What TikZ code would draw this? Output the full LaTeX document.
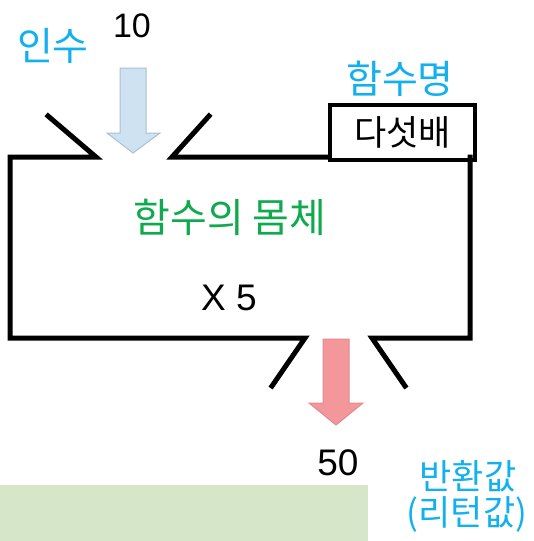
\documentclass[tikz,border=0pt]{standalone}
\usepackage{fontspec}
\setmainfont{Liberation Sans}
\newfontfamily\kr{Noto Sans CJK KR}
\definecolor{cyanlbl}{HTML}{12B0EE}
\definecolor{greenlbl}{HTML}{10A94E}
\definecolor{inblue}{HTML}{CFE2F1}
\definecolor{inborder}{HTML}{A9BFD2}
\definecolor{outred}{HTML}{F4979A}
\definecolor{outborder}{HTML}{E08A8D}
\definecolor{bandgreen}{HTML}{D5E7C8}
\begin{document}
\begin{tikzpicture}[x=1pt,y=-1pt,
  outline/.style={line width=5pt,line join=miter,line cap=rect},
  lbl/.style={inner sep=0pt,font=\kr\fontsize{39}{40}\selectfont},
  num/.style={inner sep=0pt,font=\fontsize{37}{38}\selectfont}]
\useasboundingbox (0,0) rectangle (534,541);
\fill[bandgreen] (0,485) rectangle (368,541);
% body outline
\draw[outline] (48,116) -- (96,157) -- (10,157) -- (10,338) -- (305,338) -- (272,386);
\draw[outline] (209,116) -- (172,157) -- (328,157);
\draw[outline] (405,386) -- (372,338) -- (470,338) -- (470,157);
% name box
\node[draw,line width=4pt,minimum width=145pt,minimum height=55pt,inner sep=0pt,anchor=north west,
  font=\kr\fontsize{35}{36}\selectfont] (namebox) at (328,103) {다섯배};
% input arrow
\draw[inborder,fill=inblue,line width=1pt] (120,68) -- (146,68) -- (146,133) -- (160,133) -- (133,153) -- (107,133) -- (120,133) -- cycle;
% output arrow
\draw[outborder,fill=outred,line width=1pt] (323,339) -- (349,339) -- (349,403) -- (363,403) -- (336,425) -- (309,403) -- (323,403) -- cycle;
% labels
\node[lbl,text=cyanlbl] (arg) at (53,46) {인수};
\node[num,font=\fontsize{34}{36}\selectfont] (ten) at (132,26) {10};
\node[lbl,text=cyanlbl] (fname) at (400,79) {함수명};
\node[lbl,text=greenlbl,font=\kr\fontsize{40}{40}\selectfont] (body) at (230,217) {함수의 몸체};
\node[num] (x5) at (229,298) {X 5};
\node[num] (fifty) at (338,463) {50};
\node[lbl,text=cyanlbl,font=\kr\fontsize{35}{36}\selectfont] (ret1) at (468,476) {반환값};
\node[lbl,text=cyanlbl,font=\kr\fontsize{35}{36}\selectfont] (ret2) at (467,514) {(리턴값)};
\end{tikzpicture}
\end{document}
